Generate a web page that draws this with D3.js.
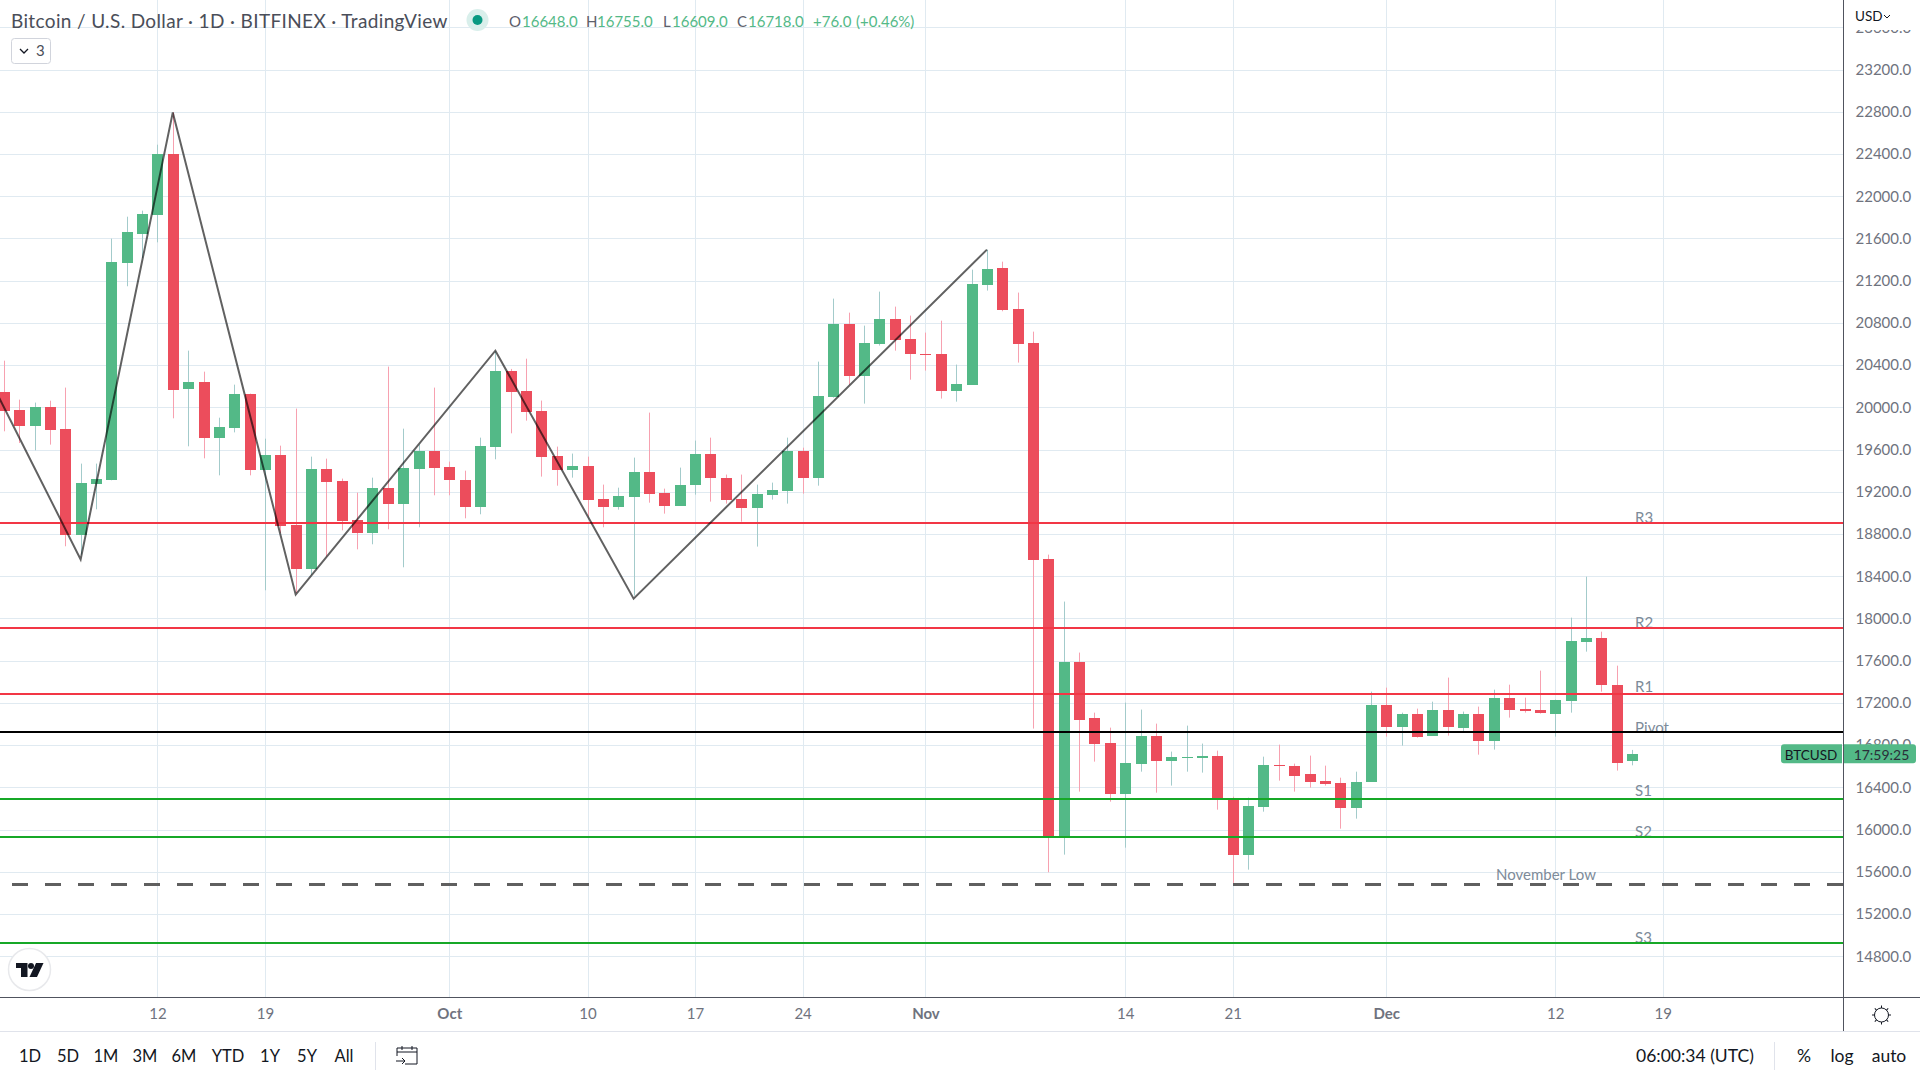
<!DOCTYPE html>
<html>
<head>
<meta charset="utf-8">
<title>BTCUSD daily</title>
<script src="https://cdn.jsdelivr.net/npm/d3@7"></script>
<style>
  html, body { margin: 0; padding: 0; background: #fff; overflow: hidden; }
  text { font-family: Lato, "Noto Sans", sans-serif; }
</style>
</head>
<body>
<div id="chart"></div>
<script>
// daily candles, first one is 2 Sep 2022
const firstDay = Date.UTC(2022, 8, 2);
const opens = [20149,19978,19830,20007,19798,18797,19280,19318,21374,21649,21829,22403,20180,20243,19716,19811,20130,19413,19552,18889,18475,19419,19306,18936,18816,19239,19091,19423,19590,19438,19315,19063,19631,20348,20158,19969,19543,19413,19448,19135,19063,19157,19391,19192,19072,19271,19562,19334,19135,19053,19176,19214,19590,19337,20101,20793,20304,20607,20840,20651,20509,20509,20161,20218,21166,21323,20935,20613,18567,15930,17591,17061,16824,16341,16625,16890,16653,16682,16682,16701,16284,15763,16218,16616,16606,16530,16464,16445,16208,16455,17184,16976,17099,16890,17137,16966,17099,16843,17250,17146,17137,17099,17222,17781,17819,17373,16648];
const highs = [20442,20073,20045,20063,20187,19467,19467,21598,21806,21863,22488,22795,20537,20338,19902,20215,20130,19703,19637,19988,19533,19514,19325,19192,19334,20386,19798,19647,20187,19486,19400,19713,20531,20364,20461,20064,19628,19562,19533,19268,19239,19524,19950,19230,19429,19685,19713,19363,19363,19268,19287,19713,19618,20433,21030,20897,20774,21096,20954,20869,20708,20821,20405,21304,21494,21380,21087,20717,18605,18160,17677,17108,16966,17203,17137,17004,16739,16985,16815,16748,16312,16303,16691,16805,16625,16701,16606,16492,16549,17307,17345,17108,17146,17212,17440,17118,17165,17326,17373,17250,17506,17231,18008,18396,17875,17553,16755];
const lows = [19773,19662,19593,19647,18684,18605,19034,19309,21147,21415,21563,19896,19631,19517,19356,19763,19356,18267,18810,18242,18415,18589,18835,18655,18703,18845,18485,18864,19167,19167,18949,18987,19508,19754,19874,19344,19258,19334,18968,18864,19031,18216,19097,18993,19069,19173,19107,19088,18917,18681,19126,19088,19183,19258,20092,20215,20035,20585,20537,20262,20348,20083,20054,20215,21106,20910,20424,16957,15596,15763,16360,16644,16265,15829,16549,16350,16417,16549,16540,16189,15495,15621,16170,16464,16360,16398,16417,16009,16104,16455,16881,16796,16871,16890,16890,16928,16710,16758,17061,17108,17099,16881,17108,17686,17307,16559,16609];
const closes = [19972,19830,20007,19792,18797,19287,19325,21380,21664,21835,22403,20171,20243,19716,19817,20130,19413,19552,18882,18475,19419,19299,18930,18816,19239,19091,19429,19590,19432,19318,19063,19637,20348,20152,19963,19536,19413,19448,19129,19063,19164,19391,19186,19072,19268,19562,19337,19129,19053,19183,19220,19590,19337,20111,20793,20304,20613,20840,20645,20512,20499,20161,20225,21172,21314,20929,20607,18557,15930,17591,17042,16815,16341,16634,16890,16653,16691,16691,16701,16293,15763,16227,16616,16606,16511,16455,16436,16208,16455,17184,16976,17099,16881,17137,16976,17099,16843,17250,17137,17127,17108,17231,17790,17819,17373,16635,16718];

const priceTicks = d3.range(14800, 23601, 400);
const timeTicks = ['2022-09-12','2022-09-19','2022-10-01','2022-10-10','2022-10-17','2022-10-24','2022-11-01','2022-11-14','2022-11-21','2022-12-01','2022-12-12','2022-12-19'];
const rangeButtons = ['1D','5D','1M','3M','6M','YTD','1Y','5Y','All'];

// pivot levels
const levelNames = ['R3','R2','R1','Pivot','S1','S2','S3'];
const levelPrices = [18908,17913,17281,16922,16287,15927,14930];
const levelColors = ['#f23645','#f23645','#f23645','#000000','#16a827','#16a827','#16a827'];
const levelLabelShift = [1, 1, -2, 1.5, -3, 0, 0.5];
const novemberLow = 15486;

// hand drawn zigzag: day offset from firstDay, price
const zigzagDays = [-1,5,11,19,32,41,64];
const zigzagPrices = [20291,18560,22794,18226,20537,18188,21494];

const width = 1920, height = 1080;
const plotW = 1843, plotH = 997, footerY = 1031;

const candles = opens.map((o, i) => ({
  date: new Date(firstDay + i * 864e5), o, h: highs[i], l: lows[i], c: closes[i]
}));
const dayDate = (n) => new Date(firstDay + n * 864e5);

const x = d3.scaleUtc()
  .domain([dayDate(0), dayDate(108)])
  .range([3.83, 1662.8]);
const y = d3.scaleLinear()
  .domain([14800, 23600])
  .range([956.3, 27.3]);

const UP = '#53b987', DOWN = '#ec4d5c';
const UP_WICK = '#a3cbcb', DOWN_WICK = '#f7a1b0';
const INK = '#131722', GREY = '#6f737e';

const svg = d3.select('#chart').append('svg')
  .attr('width', width).attr('height', height)
  .attr('viewBox', `0 0 ${width} ${height}`)
  .style('display', 'block');

svg.append('clipPath').attr('id', 'pane')
  .append('rect').attr('width', plotW).attr('height', plotH);

const pane = svg.append('g').attr('clip-path', 'url(#pane)');

// --- grid ---
const tickDates = timeTicks.map((d) => new Date(d + 'T00:00:00Z'));
pane.append('g').selectAll('line').data(priceTicks).join('line')
  .attr('x1', 0).attr('x2', plotW)
  .attr('y1', (d) => Math.round(y(d)) + 0.5).attr('y2', (d) => Math.round(y(d)) + 0.5)
  .attr('stroke', '#e0eaf1');
pane.append('g').selectAll('line').data(tickDates).join('line')
  .attr('x1', (d) => Math.round(x(d)) + 0.5).attr('x2', (d) => Math.round(x(d)) + 0.5)
  .attr('y1', 0).attr('y2', plotH)
  .attr('stroke', '#e0eaf1');

// --- candles ---
const bars = pane.append('g').selectAll('g').data(candles).join('g');
bars.append('line')
  .attr('x1', (d) => Math.round(x(d.date)) + 0.5).attr('x2', (d) => Math.round(x(d.date)) + 0.5)
  .attr('y1', (d) => y(d.h)).attr('y2', (d) => y(d.l))
  .attr('stroke', (d) => (d.c >= d.o ? UP_WICK : DOWN_WICK));
bars.append('rect')
  .attr('x', (d) => Math.round(x(d.date)) - 5)
  .attr('width', 11)
  .attr('y', (d) => Math.round(y(Math.max(d.o, d.c))))
  .attr('height', (d) => Math.max(1, Math.round(Math.abs(y(d.o) - y(d.c)))))
  .attr('fill', (d) => (d.c >= d.o ? UP : DOWN));

// --- levels ---
pane.append('g').selectAll('text').data(levelNames).join('text')
  .attr('x', x(dayDate(106)) + 3)
  .attr('y', (d, i) => y(levelPrices[i]) - 0.5 + levelLabelShift[i])
  .attr('font-size', 15).attr('fill', '#7d8b99')
  .text((d) => d);
pane.append('text')
  .attr('x', 1496).attr('y', y(novemberLow) - 4)
  .attr('font-size', 15).attr('fill', '#7d8b99')
  .text('November Low');

pane.append('g').selectAll('line').data(levelPrices).join('line')
  .attr('x1', 0).attr('x2', plotW)
  .attr('y1', (d) => Math.round(y(d))).attr('y2', (d) => Math.round(y(d)))
  .attr('stroke', (d, i) => levelColors[i])
  .attr('stroke-width', 2);
pane.append('line')
  .attr('x1', 12).attr('x2', plotW)
  .attr('y1', Math.round(y(novemberLow)) + 0.5).attr('y2', Math.round(y(novemberLow)) + 0.5)
  .attr('stroke', '#5f5f5f').attr('stroke-width', 3)
  .attr('stroke-dasharray', '16 17');

// --- zigzag ---
const zigzag = d3.line()
  .x((d, i) => x(dayDate(d)))
  .y((d, i) => y(zigzagPrices[i]));
pane.append('path')
  .attr('d', zigzag(zigzagDays))
  .attr('fill', 'none')
  .attr('stroke', '#000').attr('stroke-opacity', 0.62)
  .attr('stroke-width', 2);

// --- axes ---
const priceAxis = svg.append('g')
  .attr('transform', `translate(${plotW + 0.5},0)`)
  .call(d3.axisRight(y).tickValues(priceTicks).tickSize(0).tickPadding(12).tickFormat(d3.format('.1f')));
priceAxis.select('.domain').remove();
priceAxis.selectAll('text').attr('font-size', 15).attr('fill', GREY)
  .style('font-family', 'Lato, sans-serif');

const timeAxis = svg.append('g')
  .attr('transform', `translate(0,${plotH})`)
  .call(d3.axisBottom(x).tickValues(tickDates).tickSize(0).tickPadding(11)
    .tickFormat((d) => (d.getUTCDate() === 1 ? d3.utcFormat('%b')(d) : d3.utcFormat('%-d')(d))));
timeAxis.select('.domain').remove();
timeAxis.selectAll('text').attr('font-size', 15).attr('fill', GREY)
  .style('font-family', 'Lato, sans-serif')
  .attr('font-weight', (d) => (d.getUTCDate() === 1 ? 700 : 400));

// frame of the panes
svg.append('line').attr('x1', plotW + 0.5).attr('x2', plotW + 0.5).attr('y1', 0).attr('y2', footerY).attr('stroke', '#50535e');
svg.append('line').attr('x1', 0).attr('x2', width).attr('y1', plotH + 0.5).attr('y2', plotH + 0.5).attr('stroke', '#50535e');
svg.append('rect').attr('x', 0).attr('y', footerY).attr('width', width).attr('height', height - footerY).attr('fill', '#fff');
svg.append('line').attr('x1', 0).attr('x2', width).attr('y1', footerY + 0.5).attr('y2', footerY + 0.5).attr('stroke', '#e0e3eb');

// currency box hides the topmost price label
svg.append('rect').attr('x', plotW + 1).attr('y', 0).attr('width', 76).attr('height', 30).attr('fill', '#fff');
svg.append('text').attr('x', 1855).attr('y', 21).attr('font-size', 13.5).attr('fill', INK).text('USD');
svg.append('path').attr('d', 'M1884 15l3 3 3-3').attr('fill', 'none').attr('stroke', INK);

// --- last price tag ---
const last = candles[candles.length - 1];
const tagY = y(last.c);
svg.append('path')
  .attr('d', `M1842 ${tagY - 9.5}H1784a3 3 0 0 0 -3 3V${tagY + 6.5}a3 3 0 0 0 3 3H1842Z`)
  .attr('fill', UP);
svg.append('path')
  .attr('d', `M1844 ${tagY - 9.5}H1913a3 3 0 0 1 3 3V${tagY + 6.5}a3 3 0 0 1 -3 3H1844Z`)
  .attr('fill', UP);
svg.append('text').attr('x', 1811).attr('y', tagY + 6).attr('text-anchor', 'middle').attr('font-size', 13.5).attr('fill', INK).text('BTCUSD');
svg.append('text').attr('x', 1881.5).attr('y', tagY + 6).attr('text-anchor', 'middle').attr('font-size', 14).attr('fill', '#2a2e39').text('17:59:25');

// --- legend ---
const legend = svg.append('g');
legend.append('text').attr('x', 11).attr('y', 28).attr('font-size', 19).attr('letter-spacing', 0.36).attr('fill', '#4a4e59')
  .text('Bitcoin / U.S. Dollar · 1D · BITFINEX · TradingView');
legend.append('circle').attr('cx', 477.5).attr('cy', 20).attr('r', 11).attr('fill', '#d9efeb');
legend.append('circle').attr('cx', 477.5).attr('cy', 20).attr('r', 5).attr('fill', '#089981');

const ohlcLabels = ['O', 'H', 'L', 'C'];
const ohlcLabelX = [509, 586, 663, 737];
const ohlcValueX = [522, 597, 672, 748];
const ohlcValues = [last.o, last.h, last.l, last.c];
ohlcLabels.forEach((lab, i) => {
  legend.append('text').attr('x', ohlcLabelX[i]).attr('y', 27).attr('font-size', 15).attr('fill', '#5d606b').text(lab);
  legend.append('text').attr('x', ohlcValueX[i]).attr('y', 27).attr('font-size', 15).attr('fill', UP).text(d3.format('.1f')(ohlcValues[i]));
});
legend.append('text').attr('x', 813).attr('y', 27).attr('font-size', 15).attr('fill', UP).text('+76.0');
legend.append('text').attr('x', 856).attr('y', 27).attr('font-size', 15).attr('fill', UP).text('(+0.46%)');

// collapse button
legend.append('rect').attr('x', 11.5).attr('y', 38.5).attr('width', 39).attr('height', 25).attr('rx', 3)
  .attr('fill', '#fff').attr('stroke', '#d1d4dc');
legend.append('path').attr('d', 'M20 49l4 4 4-4').attr('fill', 'none').attr('stroke', INK).attr('stroke-width', 1.3);
legend.append('text').attr('x', 36).attr('y', 56).attr('font-size', 15).attr('fill', '#4a4e59').text('3');

// logo badge
const logo = svg.append('g');
logo.append('circle').attr('cx', 29.5).attr('cy', 969.5).attr('r', 21).attr('fill', '#fff').attr('stroke', '#e8e9ec').attr('stroke-width', 1.5);
logo.append('path').attr('d', 'M16 963H27.5V977H21V968H16Z').attr('fill', INK);
logo.append('circle').attr('cx', 31).attr('cy', 966).attr('r', 3).attr('fill', INK);
logo.append('path').attr('d', 'M36 963H43.5L37 977H29.5Z').attr('fill', INK);

// --- footer ---
const buttonX = [30, 68, 106, 145, 184, 228, 270, 307, 344];
svg.append('g').selectAll('text').data(rangeButtons).join('text')
  .attr('x', (d, i) => buttonX[i]).attr('y', 1062)
  .attr('text-anchor', 'middle').attr('font-size', 16.5).attr('fill', INK)
  .text((d) => d);
svg.append('line').attr('x1', 375.5).attr('x2', 375.5).attr('y1', 1042).attr('y2', 1070).attr('stroke', '#e0e3eb');
svg.append('path')
  .attr('d', 'M397 1056V1048H417V1064H405M397 1052H417M402 1046V1050M412 1046V1050M396 1061H405M402 1058L405 1061L402 1064')
  .attr('fill', 'none').attr('stroke', INK).attr('stroke-width', 1);

svg.append('text').attr('x', 1636).attr('y', 1062).attr('font-size', 17.5).attr('fill', INK).text('06:00:34 (UTC)');
svg.append('line').attr('x1', 1774.5).attr('x2', 1774.5).attr('y1', 1042).attr('y2', 1070).attr('stroke', '#e0e3eb');
const footRightX = [1804, 1842, 1889];
svg.append('g').selectAll('text').data(['%', 'log', 'auto']).join('text')
  .attr('x', (d, i) => footRightX[i]).attr('y', 1062)
  .attr('text-anchor', 'middle').attr('font-size', 17.5).attr('fill', INK)
  .text((d) => d);

// settings gear
const gear = svg.append('g').attr('transform', 'translate(1881.5,1015)');
gear.append('circle').attr('r', 7).attr('fill', 'none').attr('stroke', INK);
gear.selectAll('line').data(d3.range(0, 360, 45)).join('line')
  .attr('y1', -7).attr('y2', -9.5)
  .attr('transform', (d) => `rotate(${d})`)
  .attr('stroke', INK);
</script>
</body>
</html>
